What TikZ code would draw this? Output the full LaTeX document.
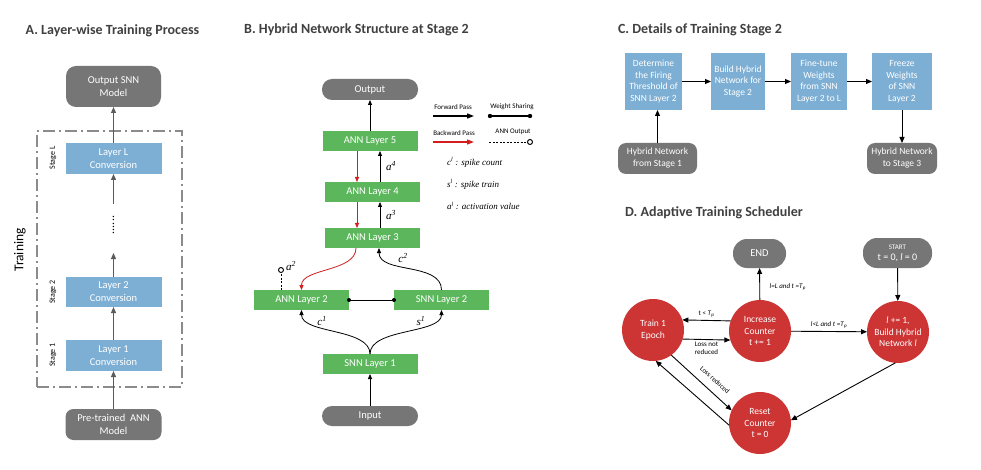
\documentclass[tikz,border=0pt]{standalone}
\usepackage{fontspec}
\setmainfont{Carlito}
\newfontfamily\tms{Liberation Serif}
\usetikzlibrary{arrows.meta}
\definecolor{cblue}{RGB}{125,175,212}
\definecolor{cgreen}{RGB}{92,183,92}
\definecolor{cgray}{RGB}{118,118,118}
\definecolor{cred}{RGB}{205,52,52}
\definecolor{ctitle}{RGB}{64,64,64}
\definecolor{carrA}{RGB}{90,90,90}
\definecolor{cback}{RGB}{210,30,30}
\newcommand\fs[2]{\fontsize{#1}{#2}\selectfont}
\begin{document}
\begin{tikzpicture}[x=1pt,y=-1pt,
  every node/.style={inner sep=0pt, outer sep=0pt},
  ttl/.style={font=\bfseries\fs{14}{16}, text=ctitle},
  gbox/.style={fill=cgray, text=white, rounded corners=8pt, align=center, font=\fs{10.5}{13}},
  bbox/.style={fill=cblue, text=white, align=center, font=\fs{10.5}{13}, minimum width=96pt},
  grbox/.style={fill=cgreen, text=white, align=center, font=\fs{10.5}{13}, minimum height=20pt, minimum width=95pt},
  cbox/.style={fill=cblue, text=white, align=center, font=\fs{9.5}{11.5}, minimum height=57pt},
  stg/.style={font=\fs{8}{9}, rotate=90},
  lgd/.style={font=\fs{7}{8}},
  mth/.style={font=\tms\itshape\fs{11}{12}},
  mthl/.style={font=\tms\itshape\fs{9}{10}, anchor=west},
  circ/.style={circle, fill=cred, text=white, align=center, font=\fs{9.5}{11.5}, minimum size=62pt},
  small/.style={font=\fs{7}{8.7}, align=center},
  arrA/.style={draw=carrA, line width=1.2pt, -{Triangle[length=6pt,width=5pt]}},
  barr/.style={draw=black, line width=0.8pt, -{Triangle[length=5pt,width=4pt]}},
  rarr/.style={draw=cback, line width=0.8pt, -{Triangle[length=5pt,width=4pt]}},
  carr/.style={draw=black, line width=0.9pt, -{Triangle[length=6pt,width=5pt]}}
]
\fill[white] (0,0) rectangle (981,470);
\useasboundingbox (0,0) rectangle (981,470);

% ---------- Panel A ----------
\node[ttl] (tA) at (112.5,31) {A. Layer-wise Training Process};
\node[draw=cgray!85, line width=1.5pt, dash pattern=on 12pt off 4pt on 2pt off 4pt,
      minimum width=145pt, minimum height=256pt] (trainbox) at (109.5,259) {};
\node[gbox, minimum width=95pt, minimum height=41pt, rounded corners=10pt] (outsnn) at (113.5,86.5) {Output SNN\\Model};
\node[bbox, minimum height=31pt] (layL) at (113.5,158.5) {Layer L\\Conversion};
\node[bbox, minimum height=30pt] (lay2) at (113.5,292) {Layer 2\\Conversion};
\node[bbox, minimum height=31pt] (lay1) at (113.5,355.5) {Layer 1\\Conversion};
\node[gbox, minimum width=96pt, minimum height=31pt] (pre) at (113.5,424.5) {Pre-trained~ ANN\\Model};
\node[font=\fs{13.5}{15}, rotate=90] (trn) at (20,250) {Training};
\node[stg] (sL) at (53,158) {Stage L};
\node[stg] (s2) at (53,292) {Stage 2};
\node[stg] (s1) at (53,355) {Stage 1};
\node[font=\fs{12}{12}, rotate=90] (dots) at (113.5,225) {......};
\coordinate (dtop) at (113.5,204);
\coordinate (dbot) at (113.5,253);
\draw[arrA] (pre) -- (lay1);
\draw[arrA] (lay1) -- (lay2);
\draw[arrA] (lay2) -- (dbot);
\draw[arrA] (dtop) -- (layL);
\draw[arrA] (layL) -- (outsnn);

% ---------- Panel B ----------
\node[ttl] (tB) at (356.5,30) {B. Hybrid Network Structure at Stage 2};
\node[gbox, minimum width=96pt, minimum height=21pt, rounded corners=10pt] (out) at (370,89.5) {Output};
\node[grbox] (ann5) at (370,141) {ANN Layer 5};
\node[grbox] (ann4) at (372.5,192) {ANN Layer 4};
\node[grbox] (ann3) at (372.5,238) {ANN Layer 3};
\node[grbox] (ann2) at (301.5,300) {ANN Layer 2};
\node[grbox] (snn2) at (441.5,300) {SNN Layer 2};
\node[grbox] (snn1) at (370,364) {SNN Layer 1};
\node[gbox, minimum width=96pt, minimum height=20pt, rounded corners=10pt] (inp) at (370,416) {Input};

\draw[barr] (ann5) -- (out);
\draw[rarr] ([xshift=-13pt]ann5.south) -- ([xshift=-13pt]ann5.south |- ann4.north);
\draw[rarr] ([xshift=-15.5pt]ann4.south) -- ([xshift=-15.5pt]ann4.south |- ann3.north);
\draw[barr] ([xshift=7.5pt]ann4.north) -- ([xshift=7.5pt]ann4.north |- ann5.south)
   node[midway, right=6pt, mth] {a\textsuperscript{4}};
\draw[barr] ([xshift=7.5pt]ann3.north) -- ([xshift=7.5pt]ann3.north |- ann4.south)
   node[midway, right=6pt, mth] {a\textsuperscript{3}};
\draw[rarr] ([xshift=-16.5pt]ann3.south) .. controls +(0,24) and +(0,-22) .. (ann2.north);
\draw[barr] (snn2.north) .. controls +(0,-28) and +(0,26) .. ([xshift=6.5pt]ann3.south);
\draw[barr] (snn1.north) .. controls +(0,-26) and +(0,24) .. (ann2.south);
\draw[barr] (snn1.north) .. controls +(0,-26) and +(0,24) .. (snn2.south);
\node[mth] (c2l) at (403,258) {c\textsuperscript{2}};
\node[mth] (c1l) at (322,321) {c\textsuperscript{1}};
\node[mth] (s1l) at (421,321) {s\textsuperscript{1}};
\draw[barr] (inp) -- (snn1);
\draw[line width=0.8pt] (ann2.east) -- (snn2.west);
\fill (ann2.east) circle (2pt);
\fill (snn2.west) circle (2pt);
\node[draw, circle, line width=0.9pt, minimum size=5pt] (a2c) at (281,270) {};
\draw[line width=0.8pt, dash pattern=on 2pt off 1.5pt] ([xshift=-20.5pt]ann2.north) -- (a2c);
\node[mth, anchor=west] (a2l) at (286,266) {a\textsuperscript{2}};

% legend
\node[lgd] (lfw) at (453,107) {Forward Pass};
\coordinate (fw1) at (433,116); \coordinate (fw2) at (474,116);
\draw[draw=black, line width=1.2pt, -{Triangle[length=7pt,width=5pt]}] (fw1) -- (fw2);
\node[lgd] (lws) at (512,107) {Weight Sharing};
\coordinate (ws1) at (490,116); \coordinate (ws2) at (530,116);
\draw[line width=1.2pt] (ws1) -- (ws2);
\fill (ws1) circle (2.2pt); \fill (ws2) circle (2.2pt);
\node[lgd] (lbw) at (454,133) {Backward Pass};
\coordinate (bw1) at (433,142); \coordinate (bw2) at (474,142);
\draw[draw=cback, line width=1.2pt, -{Triangle[length=7pt,width=5pt]}] (bw1) -- (bw2);
\node[lgd] (lao) at (513,132) {ANN Output};
\coordinate (ao1) at (489,142);
\node[draw, circle, line width=1pt, minimum size=5pt] (aoc) at (530,142) {};
\draw[line width=0.8pt, dash pattern=on 2pt off 1.5pt] (ao1) -- (aoc);
\node[mthl] (lc) at (447,162) {c\textsuperscript{l} : spike count};
\node[mthl] (ls) at (447,184) {s\textsuperscript{l} : spike train};
\node[mthl] (la) at (447,206) {a\textsuperscript{l} : activation value};

% ---------- Panel C ----------
\node[ttl] (tC) at (700,30) {C. Details of Training Stage 2};
\node[cbox, minimum width=57pt] (c1) at (653.5,81.5) {Determine\\the Firing\\Threshold of\\SNN Layer 2};
\node[cbox, minimum width=54pt] (c2) at (738,81.5) {Build Hybrid\\Network for\\Stage 2};
\node[cbox, minimum width=56pt] (c3) at (819,81.5) {Fine-tune\\Weights\\from SNN\\Layer 2 to L};
\node[cbox, minimum width=60pt] (c4) at (902,81.5) {Freeze\\Weights\\of SNN\\Layer 2};
\node[gbox, font=\fs{9.5}{12}, minimum width=79pt, minimum height=31pt] (hn1) at (657.5,158.5) {Hybrid Network\\from Stage 1};
\node[gbox, font=\fs{9.5}{12}, minimum width=70pt, minimum height=31pt] (hn3) at (902,158.5) {Hybrid Network\\to Stage 3};
\draw[carr] (c1) -- (c2);
\draw[carr] (c2) -- (c3);
\draw[carr] (c3) -- (c4);
\draw[carr] (hn1.north) -- (hn1.north |- c1.south);
\draw[carr] (c4) -- (hn3);

% ---------- Panel D ----------
\node[ttl] (tD) at (714,213) {D. Adaptive Training Scheduler};
\node[gbox, rounded corners=14pt, minimum width=53pt, minimum height=29pt] (endn) at (759.5,253.5) {END};
\node[gbox, rounded corners=14pt, minimum width=69pt, minimum height=30pt, font=\fs{10}{11}] (start) at (897.5,253) {{\fs{7}{9}START}\\t = 0, \textit{l} = 0};
\node[circ] (train) at (653,330) {Train 1\\Epoch};
\node[circ] (inc) at (760,331) {Increase\\Counter\\t += 1};
\node[circ] (build) at (898,332) {\textit{l} += 1,\\Build Hybrid\\Network \textit{l}};
\node[circ] (reset) at (760,423) {Reset\\Counter\\t = 0};

\draw[carr] (inc.161) -- (train.19)
   node[midway, above=3pt, small] {t < \textit{T}\textsubscript{\textit{p}}};
\draw[carr] (train.-17) -- (inc.-163)
   node[midway, below=2pt, small] {Loss not\\reduced};
\draw[carr] (inc) -- (endn)
   node[pos=0.4, right=10pt, small] {\textit{l=L and t =T}\textsubscript{\textit{p}}};
\draw[carr] (inc) -- (build)
   node[midway, above=3pt, small] {\textit{l<L and t =T}\textsubscript{\textit{p}}};
\draw[carr] (start) -- (build);
\draw[carr] (build.-95) -- (reset.5);
\draw[carr] (train.-54) -- (reset.156);
\node[small, rotate=-42.5] (lossred) at (715,380) {Loss reduced};
\draw[carr] (reset.184) -- (train.-85);
\end{tikzpicture}
\end{document}
